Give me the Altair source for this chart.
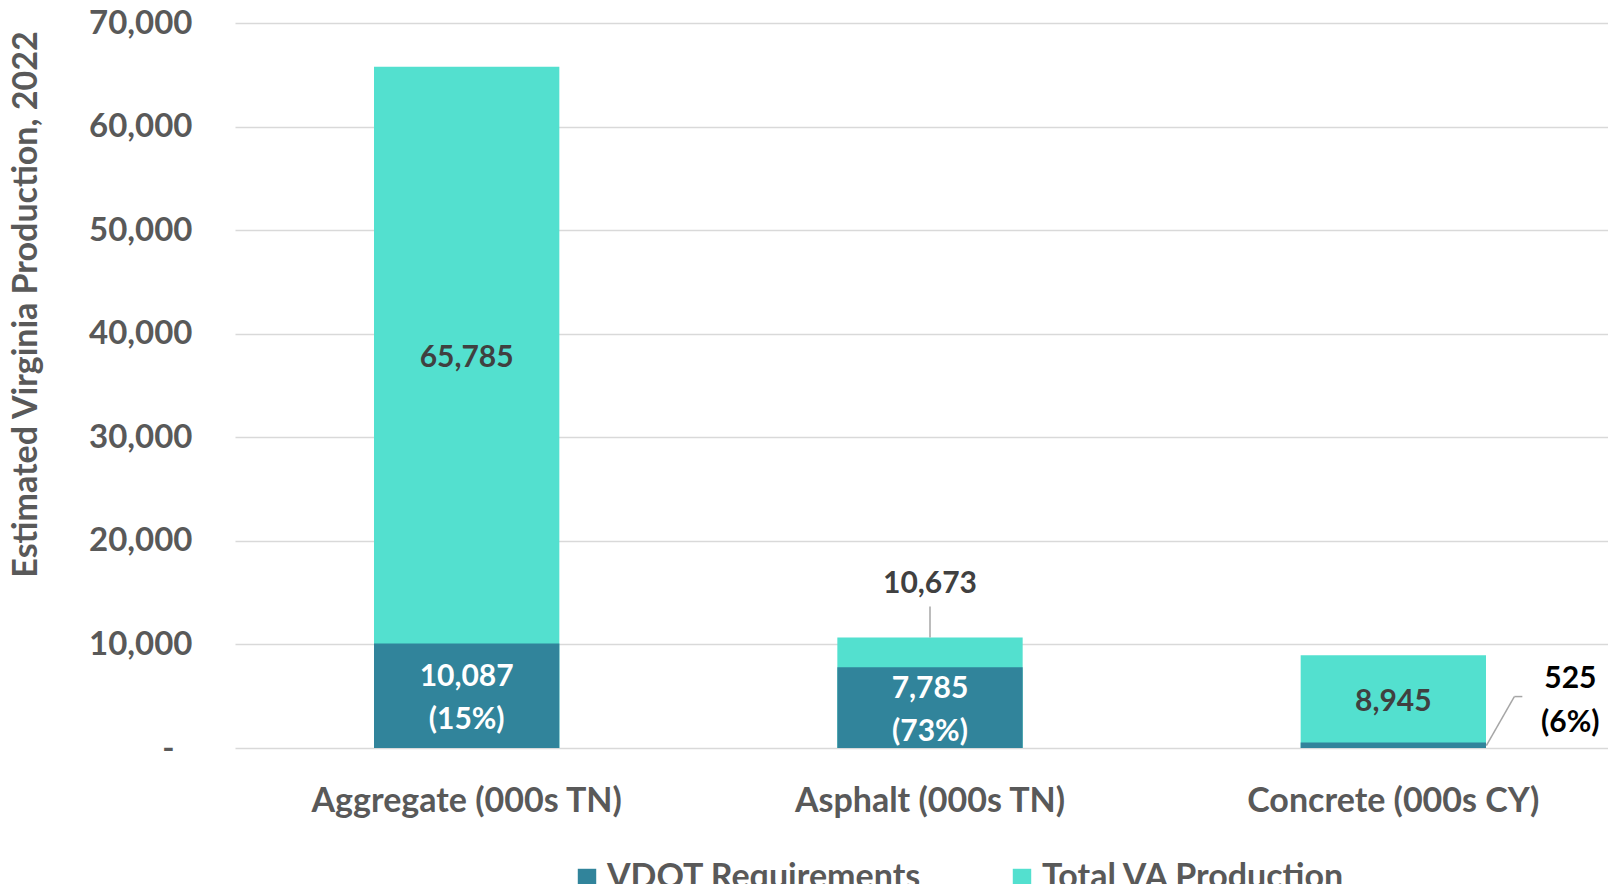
import altair as alt
import pandas as pd

categories = ["Aggregate (000s TN)", "Asphalt (000s TN)", "Concrete (000s CY)"]
vdot_req = [10087, 7785, 525]
total_va = [65785, 10673, 8945]
series = ["VDOT Requirements", "Total VA Production"]
y_ticks = [0, 10000, 20000, 30000, 40000, 50000, 60000, 70000]

DARK = "#31849B"
LIGHT = "#53E0CF"
GRAY = "#595959"
FONT = "Lato"

df = pd.DataFrame({"category": categories, "vdot": vdot_req, "total": total_va})

base = alt.Chart(df).transform_calculate(
    mid_upper="(datum.vdot + datum.total) / 2",
    mid_lower="datum.vdot / 2",
    vlabel="format(datum.vdot, ',') + '\\n(' + format(datum.vdot / datum.total, '.0%') + ')'",
)

x_enc = alt.X(
    "category:N",
    sort=categories,
    scale=alt.Scale(range=[0, 1390], paddingInner=0.6, paddingOuter=0.3),
    axis=alt.Axis(title=None, labelAngle=0, labelPadding=36, labelLimit=600,
                  domain=False, ticks=False),
)

y_scale = alt.Scale(domain=[0, 70000], nice=False)
color_scale = alt.Scale(domain=series, range=[DARK, LIGHT])

bar_total = base.mark_bar().encode(
    x=x_enc,
    y=alt.Y(
        "total:Q",
        scale=y_scale,
        axis=alt.Axis(
            values=y_ticks,
            domain=False, ticks=False,
            labelExpr="datum.value == 0 ? '-' : format(datum.value, ',')",
            labelPadding={"condition": {"test": "datum.value == 0", "value": 61}, "value": 43},
            title="Estimated Virginia Production, 2022",
            titleX=-209, titleY=281, titleAngle=-90, titleAlign="center",
            titleBaseline="middle",
        ),
    ),
    color=alt.Color(
        "s:N", scale=color_scale,
        legend=alt.Legend(
            title=None, orient="none", legendX=335, legendY=838,
            direction="horizontal", symbolType="square", symbolSize=340,
            symbolStrokeWidth=0, symbolOpacity=1, labelFont=FONT,
            labelFontSize=34, labelFontWeight="bold", labelColor=GRAY,
            labelOffset=3, columnPadding=83, padding=0, labelLimit=600,
        ),
    ),
).transform_calculate(s="'" + series[1] + "'")

bar_vdot = base.mark_bar().encode(
    x=alt.X("category:N", sort=categories),
    y=alt.Y("vdot:Q"),
    color=alt.Color("s:N", scale=color_scale),
).transform_calculate(s="'" + series[0] + "'")

text_total_in = base.transform_filter(
    f"datum.category != '{categories[1]}'"
).mark_text(
    font=FONT, fontSize=30, fontWeight="bold", color="#404040", baseline="middle", dy=3
).encode(
    x=alt.X("category:N", sort=categories),
    y=alt.Y("mid_upper:Q"),
    text=alt.Text("total:Q", format=","),
)

text_total_out = base.transform_filter(
    f"datum.category == '{categories[1]}'"
).mark_text(
    font=FONT, fontSize=30, fontWeight="bold", color="#404040", baseline="middle", dy=-53
).encode(
    x=alt.X("category:N", sort=categories),
    y=alt.Y("total:Q"),
    text=alt.Text("total:Q", format=","),
)

leader_asphalt = base.transform_filter(
    f"datum.category == '{categories[1]}'"
).mark_rule(color="#A6A6A6", strokeWidth=1.5, y2Offset=-31).encode(
    x=alt.X("category:N", sort=categories),
    y=alt.Y("total:Q"),
    y2="total:Q",
)

text_vdot_in = base.transform_filter(
    f"datum.category != '{categories[2]}'"
).mark_text(
    font=FONT, fontSize=30, fontWeight="bold", color="white", baseline="middle",
    lineBreak="\n", lineHeight=43, dy=-19,
).encode(
    x=alt.X("category:N", sort=categories),
    y=alt.Y("mid_lower:Q"),
    text="vlabel:N",
)

text_vdot_out = base.transform_filter(
    f"datum.category == '{categories[2]}'"
).mark_text(
    font=FONT, fontSize=30, fontWeight="bold", color="black", baseline="middle",
    lineBreak="\n", lineHeight=44, dx=177, dy=-64,
).encode(
    x=alt.X("category:N", sort=categories),
    y=alt.Y("vdot:Q"),
    text="vlabel:N",
)

leader_c1 = base.transform_filter(
    f"datum.category == '{categories[2]}'"
).mark_rule(color="#A6A6A6", strokeWidth=1.5, xOffset=93, x2Offset=121, yOffset=3, y2Offset=-46).encode(
    x=alt.X("category:N", sort=categories),
    x2="category:N",
    y=alt.Y("vdot:Q"),
    y2="vdot:Q",
)

leader_c2 = base.transform_filter(
    f"datum.category == '{categories[2]}'"
).mark_rule(color="#A6A6A6", strokeWidth=1.5, xOffset=121, x2Offset=129, yOffset=-46, y2Offset=-46).encode(
    x=alt.X("category:N", sort=categories),
    x2="category:N",
    y=alt.Y("vdot:Q"),
    y2="vdot:Q",
)

chart = alt.layer(
    bar_total, bar_vdot, text_total_in, text_total_out, leader_asphalt,
    text_vdot_in, text_vdot_out, leader_c1, leader_c2,
).properties(
    width=1373, height=725,
    autosize=alt.AutoSizeParams(type="none"),
    padding={"left": 227, "top": 15, "right": 0, "bottom": 136},
).configure(
    font=FONT
).configure_view(
    stroke="transparent", strokeWidth=0
).configure_axis(
    domain=False, ticks=False, labelFont=FONT, labelFontWeight="bold",
    labelColor=GRAY, titleFont=FONT, titleFontWeight="bold", titleColor=GRAY,
).configure_axisX(
    grid=False, labelFontSize=34,
).configure_axisY(
    grid=True, gridColor="#D9D9D9", gridWidth=1.5, labelFontSize=33,
    titleFontSize=34,
)

chart.save("out.html", embed_options={"renderer": "svg", "actions": False})
